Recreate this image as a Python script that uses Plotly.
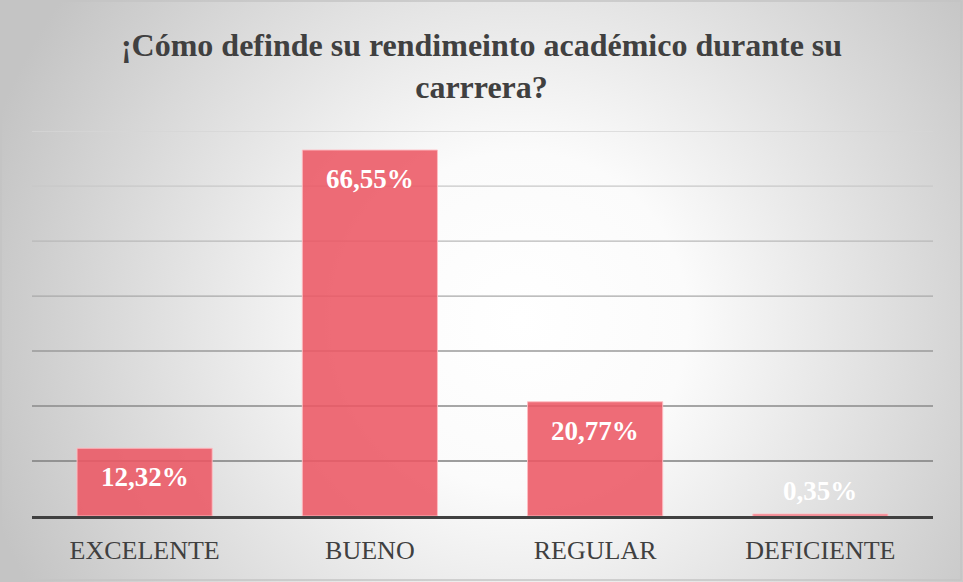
import base64
import plotly.graph_objects as go

categories = ["EXCELENTE", "BUENO", "REGULAR", "DEFICIENTE"]
values = [0.1232, 0.6655, 0.2077, 0.0035]
labels = ["12,32%", "66,55%", "20,77%", "0,35%"]
title_text = "<b>¡Cómo definde su rendimeinto académico durante su</b><br><b>carrrera?</b>"

grid_values = [0.1, 0.2, 0.3, 0.4, 0.5, 0.6, 0.7]
grid_colors = ["#7e7e7e", "#8a8a8a", "#9a9a9a", "#a8a8a8", "#b8b8b8", "#c8c8c8", "#d6d6d6"]

label_shift = [-29, -29, -29, 23]
SERIF = "Liberation Serif"

svg = """<svg xmlns='http://www.w3.org/2000/svg' width='963' height='582' viewBox='0 0 963 582' preserveAspectRatio='none'>
<defs><radialGradient id='g' gradientUnits='userSpaceOnUse' cx='520' cy='320' r='560'>
<stop offset='0' stop-color='#ffffff'/><stop offset='0.3' stop-color='#fbfbfb'/><stop offset='1' stop-color='#c4c4c4'/></radialGradient></defs>
<rect x='0' y='0' width='963' height='582' fill='url(#g)'/>
<rect x='1' y='1' width='960' height='579' fill='none' stroke='#c4c4c4' stroke-width='1.5'/>
</svg>"""
src = "data:image/svg+xml;base64," + base64.b64encode(svg.encode()).decode()

fig = go.Figure()
fig.add_trace(go.Bar(
    x=categories, y=values,
    marker=dict(color="rgba(236,88,100,0.88)", line=dict(color="rgba(255,190,195,0.9)", width=1)),
    width=0.6, hoverinfo="skip",
))

for gv, gc in zip(grid_values, grid_colors):
    fig.add_shape(type="line", xref="paper", x0=0, x1=1, yref="y", y0=gv, y1=gv,
                  line=dict(color=gc, width=1.3), layer="below")

for c, v, t, s in zip(categories, values, labels, label_shift):
    fig.add_annotation(x=c, y=v, text="<b>" + t + "</b>", showarrow=False, yshift=s,
                       xanchor="center", yanchor="middle",
                       font=dict(family=SERIF, size=27, color="white"))

fig.update_layout(
    width=963, height=582,
    margin=dict(l=32, r=30, t=131, b=66),
    paper_bgcolor="rgba(0,0,0,0)", plot_bgcolor="rgba(0,0,0,0)",
    images=[dict(source=src, xref="paper", yref="paper", x=-32/901, y=1+131/385,
                 sizex=963/901, sizey=582/385, xanchor="left", yanchor="top",
                 sizing="stretch", layer="below")],
    title=dict(text=title_text, x=0.5, xanchor="center", y=1 - 56/582, yanchor="top",
               font=dict(family=SERIF, size=32, color="#404040")),
    showlegend=False,
)
fig.update_xaxes(showline=True, linecolor="#404040", linewidth=3,
                 tickfont=dict(family=SERIF, size=26, color="#404040"),
                 ticks="", ticklabelstandoff=9, fixedrange=True)
fig.update_yaxes(range=[0, 0.7001], showticklabels=False, showgrid=False,
                 zeroline=False, fixedrange=True)

fig.write_html("out.html", config={"displayModeBar": False},
               post_script="document.body.style.margin='0';document.body.style.overflow='hidden';")
